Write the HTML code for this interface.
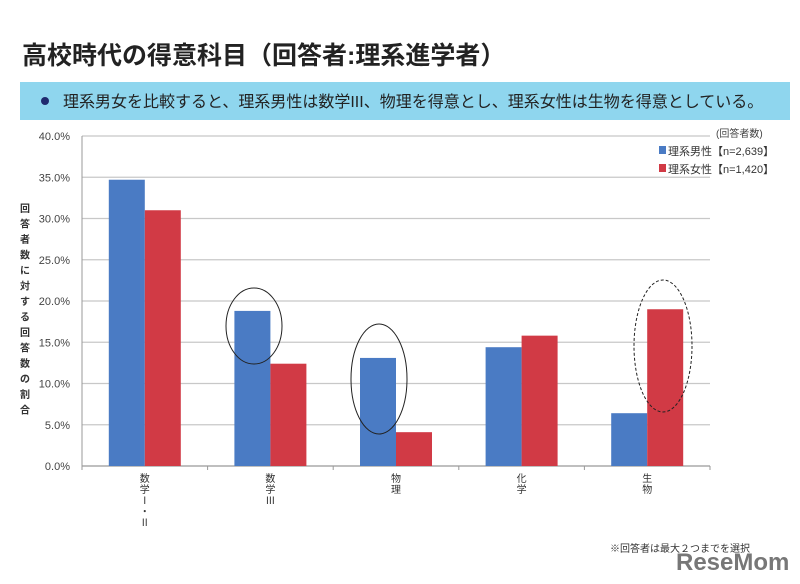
<!DOCTYPE html>
<html><head><meta charset="utf-8">
<style>
body{margin:0;background:#fff;width:800px;height:579px;overflow:hidden;font-family:"Liberation Sans","Noto Sans CJK JP",sans-serif;}
svg text{font-family:"Liberation Sans","Noto Sans CJK JP",sans-serif;}
</style></head><body>
<svg id="c" width="800" height="579" xmlns="http://www.w3.org/2000/svg">
<text x="22" y="64" font-size="25" font-weight="bold" fill="#222">高校時代の得意科目（回答者:理系進学者）</text>
<rect x="20" y="82" width="770" height="38" fill="#8fd6ee"/>
<circle cx="45" cy="101" r="4" fill="#1f2a6e"/>
<text x="63" y="107" font-size="16" fill="#222">理系男女を比較すると、理系男性は数学III、物理を得意とし、理系女性は生物を得意としている。</text>
<g id="grid"></g>
<g id="bars"></g>
<g id="labels"></g>
<g id="ytitle"></g>
<text x="716" y="137" font-size="10" fill="#444">(回答者数)</text>
<rect x="659" y="146" width="7" height="8" fill="#4a7bc4"/>
<text x="668" y="155" font-size="11" fill="#333">理系男性【n=2,639】</text>
<rect x="659" y="164" width="7" height="8" fill="#d13a45"/>
<text x="668" y="173" font-size="11" fill="#333">理系女性【n=1,420】</text>
<ellipse cx="254" cy="326" rx="28" ry="38" fill="none" stroke="#222" stroke-width="1"/>
<ellipse cx="379" cy="379" rx="28" ry="55" fill="none" stroke="#222" stroke-width="1"/>
<ellipse cx="663" cy="346" rx="29" ry="66" fill="none" stroke="#222" stroke-width="1" stroke-dasharray="3,2"/>
<text x="610" y="552" font-size="10" fill="#333">※回答者は最大２つまでを選択</text>
<text x="676" y="570" font-size="24" font-weight="bold" fill="#777">ReseMom</text>
</svg>
<script>
const categories=["数学Ⅰ・Ⅱ","数学Ⅲ","物理","化学","生物"];
const catLabels=[["数","学","Ⅰ","・","Ⅱ"],["数","学","Ⅲ"],["物","理"],["化","学"],["生","物"]];
const maleValues=[34.7,18.8,13.1,14.4,6.4];
const femaleValues=[31.0,12.4,4.1,15.8,19.0];
const yTicks=[0,5,10,15,20,25,30,35,40];
const NS="http://www.w3.org/2000/svg";
const x0=82,x1=710,yTop=136,yBot=466,yMax=40;
const y=v=>yBot-(v/yMax)*(yBot-yTop);
const band=(x1-x0)/categories.length;
function mk(t,a,p){const e=document.createElementNS(NS,t);for(const k in a)e.setAttribute(k,a[k]);p.appendChild(e);return e;}
const g=document.getElementById('grid');
yTicks.forEach(t=>{
 const l=mk('line',{x1:x0,x2:x1,y1:y(t),y2:y(t),stroke:t===0?'#999':'#c8c8c8','stroke-width':1.2},g);
 
 
 const tx=mk('text',{x:x0-12,y:y(t)+4,'font-size':11,fill:'#444','text-anchor':'end'},g);
 tx.textContent=t.toFixed(1)+'%';
 
 
});
mk('line',{x1:x0,x2:x0,y1:yTop,y2:yBot,stroke:'#999'},g);
for(let i=0;i<=categories.length;i++){mk('line',{x1:x0+i*band,x2:x0+i*band,y1:yBot,y2:yBot+4,stroke:'#999'},g);}
const b=document.getElementById('bars');
const bw=36;
categories.forEach((c,i)=>{
 const cx=x0+band*(i+0.5);
 const m=mk('rect',{x:cx-bw,y:y(maleValues[i]),width:bw,height:yBot-y(maleValues[i]),fill:'#4a7bc4'},b);
 
 
 const f=mk('rect',{x:cx,y:y(femaleValues[i]),width:bw,height:yBot-y(femaleValues[i]),fill:'#d13a45'},b);
 
 
 const lg=document.getElementById('labels');
 catLabels[i].forEach((ch,j)=>{
  const t=mk('text',{x:cx,y:yBot+16+j*11,'font-size':10,fill:'#333','text-anchor':'middle'},lg);
  t.textContent=ch;
  
  
 });
});
const yt=document.getElementById('ytitle');
"回答者数に対する回答数の割合".split('').forEach((ch,j)=>{
 const t=mk('text',{x:25,y:212+j*15.5,'font-size':10,'font-weight':'bold',fill:'#333','text-anchor':'middle'},yt);
 t.textContent=ch;
});
</script>
</body></html>
